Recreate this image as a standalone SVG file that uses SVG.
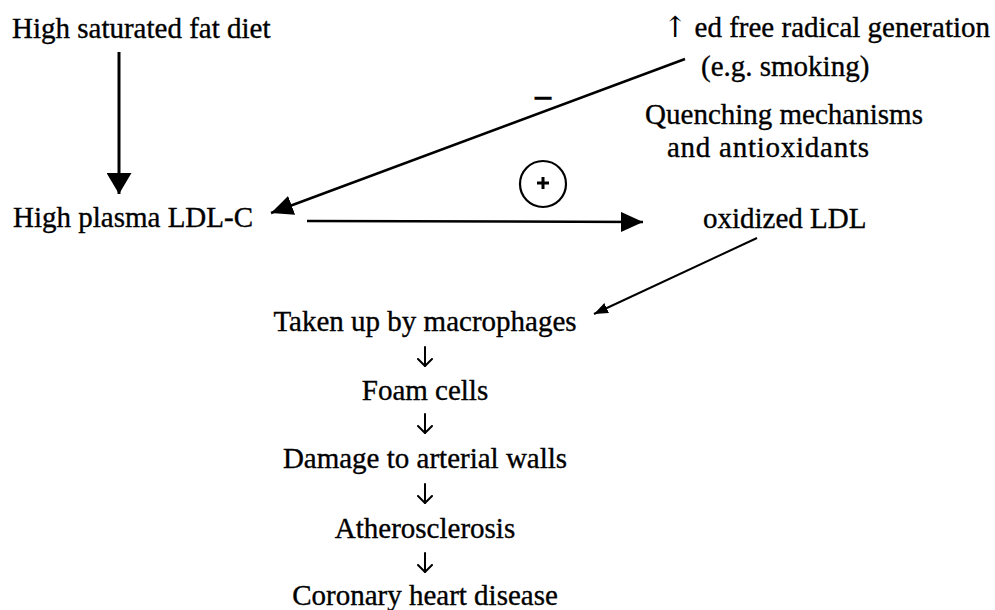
<svg xmlns="http://www.w3.org/2000/svg" width="995" height="610" viewBox="0 0 995 610">
<style>
text{font-family:"Liberation Serif","Times New Roman",serif;font-size:29px;fill:#000;stroke:#000;stroke-width:0.35px}
.m{text-anchor:middle}
.e{text-anchor:end}
.ln{stroke:#000;stroke-width:2.5;fill:none}
.dn{stroke:#000;stroke-width:2;fill:none;stroke-linecap:round;stroke-linejoin:round}
</style>
<defs>
<marker id="big" markerUnits="userSpaceOnUse" viewBox="0 0 22 20" refX="22" refY="10" markerWidth="22" markerHeight="20" orient="auto">
<path d="M0,0 L22,10 L0,20 z" fill="#000"/>
</marker>
<marker id="vbig" markerUnits="userSpaceOnUse" viewBox="0 0 21 25" refX="21" refY="12.5" markerWidth="21" markerHeight="25" orient="auto">
<path d="M0,0 L21,12.5 L0,25 z" fill="#000"/>
</marker>
<marker id="small" markerUnits="userSpaceOnUse" viewBox="0 0 14 11" refX="14" refY="5.5" markerWidth="14" markerHeight="11" orient="auto">
<path d="M0,0 L14,5.5 L0,11 z" fill="#000"/>
</marker>
<marker id="vee" markerUnits="userSpaceOnUse" viewBox="0 0 10 16" refX="8" refY="8" markerWidth="10" markerHeight="16" orient="auto">
<path d="M1,1 L8,8 L1,15" fill="none" stroke="#000" stroke-width="2" stroke-linecap="round" stroke-linejoin="round"/>
</marker>
</defs>
<g id="connectors">
<line class="ln" x1="119" y1="52" x2="119" y2="194" marker-end="url(#vbig)" style="stroke-width:3"/>
<line class="ln" x1="685" y1="59" x2="271" y2="213" marker-end="url(#big)"/>
<line class="ln" x1="307" y1="221" x2="643" y2="222" marker-end="url(#big)"/>
<line class="ln" x1="757" y1="238" x2="594" y2="314" marker-end="url(#small)" style="stroke-width:2"/>
<line class="dn" x1="425" y1="347" x2="425" y2="366" marker-end="url(#vee)"/>
<line class="dn" x1="425" y1="414" x2="425" y2="433" marker-end="url(#vee)"/>
<line class="dn" x1="425" y1="484" x2="425" y2="503" marker-end="url(#vee)"/>
<line class="dn" x1="425" y1="553" x2="425" y2="572" marker-end="url(#vee)"/>
<text x="543" y="110" class="m" style="font-weight:bold;font-size:36px">−</text>
<g id="plus">
<circle cx="543" cy="184" r="23" fill="none" stroke="#000" stroke-width="2.2"/>
<path d="M537,183 H549 M543,177 V189" stroke="#000" stroke-width="3"/>
</g>
</g>
<g id="diet"><text x="12" y="38">High saturated fat diet</text></g>
<g id="ldlc"><text x="13" y="227">High plasma LDL-C</text></g>
<g id="radical"><text x="990" y="37" class="e"><tspan style="font-family:'DejaVu Serif',serif;stroke-width:0">↑</tspan> ed free radical generation</text>
<text x="701" y="76">(e.g. smoking)</text></g>
<g id="quench"><text x="784" y="124" class="m">Quenching mechanisms</text>
<text x="768" y="157" class="m" textLength="202" lengthAdjust="spacing">and antioxidants</text></g>
<g id="oxldl"><text x="703" y="228">oxidized LDL</text></g>
<g id="chain">
<text x="425" y="331" class="m">Taken up by macrophages</text>
<text x="425" y="400" class="m">Foam cells</text>
<text x="425" y="468" class="m">Damage to arterial walls</text>
<text x="425" y="538" class="m">Atherosclerosis</text>
<text x="425" y="605" class="m">Coronary heart disease</text>
</g>
</svg>
